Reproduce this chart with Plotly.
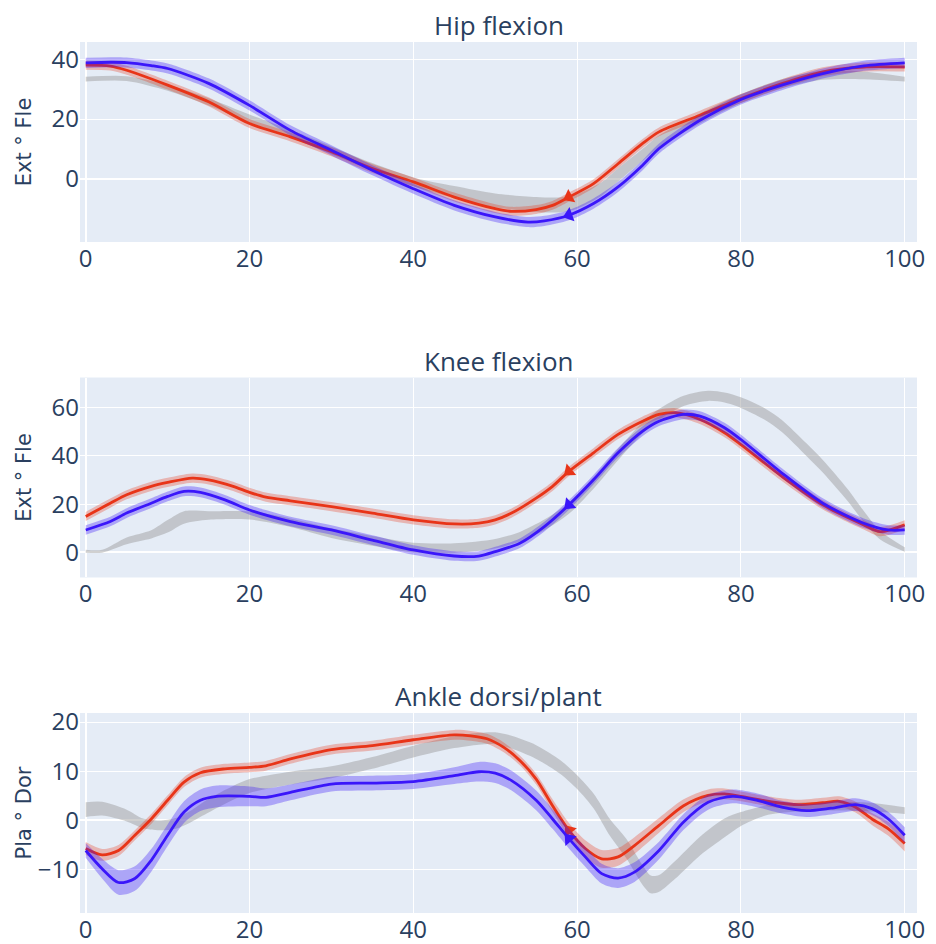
import numpy as np
import plotly.graph_objects as go
from plotly.subplots import make_subplots

TITLES = ["Hip flexion", "Knee flexion", "Ankle dorsi/plant"]
YLABELS = ["Ext ° Fle", "Ext ° Fle", "Pla ° Dor"]
X_TICKS = [0, 20, 40, 60, 80, 100]
Y_TICKS = [[0, 20, 40], [0, 20, 40, 60], [-10, 0, 10, 20]]
TOE_OFF_RED = 59
TOE_OFF_BLUE = 59

# ---------------- Hip ----------------
hip_norm_x = [0, 5, 10, 15, 20, 25, 30, 35, 40, 45, 50, 55, 58, 60, 63, 65, 68, 70, 75, 80, 85, 90, 95, 100]
hip_norm_y = [33.4, 33.6, 30.5, 25.8, 20.2, 15.1, 9.5, 3.9, -1.1, -4.5, -7.3, -8.7, -8.8, -7.6, -3.5, 1.2, 8.0, 12.5, 20.2, 26.9, 31.9, 34.7, 34.7, 33.4]
hip_norm_sd = [0.8, 0.8, 1.0, 1.2, 1.3, 1.3, 1.3, 1.3, 1.5, 2.0, 2.3, 2.5, 2.5, 2.5, 2.3, 2.2, 2.0, 2.0, 1.7, 1.5, 1.5, 1.5, 1.3, 0.8]

hip_red_x = [0, 3, 5, 10, 15, 20, 25, 30, 35, 40, 45, 50, 52, 55, 57, 59, 62, 65, 68, 70, 75, 80, 85, 90, 95, 100]
hip_red_y = [38.1, 37.8, 36.4, 31.4, 25.8, 18.5, 14.0, 9.0, 3.4, -1.1, -6.2, -10.1, -11.0, -10.4, -9.0, -6.2, -1.7, 5.0, 11.8, 15.7, 21.3, 26.9, 31.9, 35.9, 37.5, 37.5]
hip_red_sd = [1.5] * len(hip_red_x)

hip_blue_x = [0, 3, 5, 8, 10, 15, 20, 25, 30, 35, 40, 45, 50, 54, 56, 59, 62, 65, 68, 70, 75, 80, 85, 90, 95, 100]
hip_blue_y = [38.9, 39.1, 39.0, 38.0, 37.0, 32.0, 24.6, 16.2, 9.5, 2.8, -3.4, -9.0, -12.9, -14.6, -14.2, -12.3, -8.4, -2.8, 4.5, 10.1, 19.6, 26.6, 31.4, 35.3, 37.9, 38.9]
hip_blue_sd = [1.7] * len(hip_blue_x)

# ---------------- Knee ----------------
knee_norm_x = [0, 2, 5, 8, 10, 12, 15, 20, 25, 30, 35, 40, 45, 50, 53, 56, 59, 62, 65, 68, 70, 73, 76, 78, 80, 83, 85, 88, 90, 93, 95, 97, 100]
knee_norm_y = [0.5, 0.5, 4.8, 7.5, 10.8, 14.5, 15.3, 15.3, 12.3, 8.0, 4.8, 2.0, 1.8, 3.6, 6.5, 11.4, 18.3, 28.8, 40.6, 51.7, 57.2, 62.8, 64.9, 64.2, 62.1, 57.2, 52.4, 42.6, 35.7, 23.9, 14.9, 7.2, 1.2]
knee_norm_sd = [0.6, 0.6, 1.4, 1.7, 2.6, 2.6, 1.8, 1.7, 1.8, 2.0, 2.0, 2.0, 2.0, 2.0, 2.0, 2.2, 2.3, 2.4, 2.4, 2.3, 2.2, 2.1, 2.1, 2.1, 2.2, 2.4, 2.5, 2.6, 2.6, 2.5, 2.3, 1.8, 0.9]

knee_red_x = [0, 3, 5, 8, 10, 13, 15, 18, 20, 22, 25, 30, 35, 40, 45, 48, 50, 52, 55, 57, 59, 62, 65, 68, 70, 72, 75, 78, 80, 85, 90, 95, 97, 100]
knee_red_y = [14.9, 20.4, 23.9, 27.4, 29.0, 30.8, 30.1, 27.4, 24.9, 22.9, 21.4, 19.0, 16.3, 13.5, 11.8, 12.1, 13.5, 16.3, 22.5, 27.4, 33.6, 41.3, 48.9, 54.4, 57.2, 57.9, 55.1, 49.6, 44.7, 31.5, 19.7, 11.4, 8.6, 11.4]
knee_red_sd = [1.9] * len(knee_red_x)

knee_blue_x = [0, 3, 5, 8, 10, 12, 14, 17, 20, 25, 30, 35, 40, 45, 48, 50, 53, 56, 59, 62, 65, 68, 70, 73, 75, 78, 80, 85, 90, 95, 98, 100]
knee_blue_y = [9.3, 12.8, 16.3, 20.4, 23.2, 25.3, 24.9, 21.8, 17.6, 12.8, 9.3, 5.1, 1.0, -1.5, -1.5, 0.3, 3.8, 10.7, 19.7, 30.1, 41.3, 50.3, 54.4, 57.2, 56.5, 51.7, 46.8, 32.9, 20.4, 12.1, 9.3, 9.3]
knee_blue_sd = [2.0] * len(knee_blue_x)

# ---------------- Ankle ----------------
ankle_norm_x = [0, 2, 5, 7, 9, 11, 13, 15, 18, 20, 25, 30, 35, 40, 45, 48, 50, 52, 55, 58, 60, 62, 64, 66, 68, 69, 70, 72, 75, 78, 80, 83, 86, 90, 95, 100]
ankle_norm_y = [2.2, 2.4, 1.0, -0.6, -1.0, -0.6, 1.0, 3.0, 5.6, 7.0, 8.6, 9.8, 11.7, 14.0, 15.9, 16.6, 16.7, 15.9, 13.9, 10.8, 7.8, 4.0, -1.4, -5.7, -11.1, -13.0, -12.8, -10.0, -5.2, -1.5, 0.3, 2.0, 2.6, 2.9, 2.8, 2.0]
ankle_norm_sd = [1.5, 1.4, 1.2, 1.0, 1.0, 1.1, 1.2, 1.4, 1.4, 1.4, 1.3, 1.2, 1.2, 1.2, 1.2, 1.2, 1.2, 1.3, 1.4, 1.4, 1.4, 1.5, 1.7, 2.0, 2.0, 1.8, 1.7, 1.8, 1.9, 1.9, 1.4, 1.0, 0.9, 0.9, 0.9, 0.7]

ankle_red_x = [0, 2, 4, 6, 8, 10, 12, 14, 17, 20, 22, 25, 30, 35, 40, 45, 47, 49, 51, 53, 55, 57, 59, 61, 63, 65, 67, 70, 73, 76, 78, 80, 84, 87, 90, 92, 94, 96, 98, 100]
ankle_red_y = [-5.7, -7.0, -6.1, -3.0, 0.3, 4.1, 7.8, 9.7, 10.5, 10.8, 11.1, 12.5, 14.4, 15.2, 16.4, 17.4, 17.2, 16.6, 14.9, 12.2, 8.4, 3.0, -2.0, -5.7, -7.8, -7.4, -5.1, -1.0, 3.0, 5.1, 5.4, 4.9, 3.7, 3.2, 3.6, 3.9, 2.7, 0.3, -1.7, -4.7]
ankle_red_sd = [1.3, 1.2, 1.1, 1.0, 1.0, 1.0, 1.0, 1.0, 1.0, 1.0, 1.0, 1.0, 1.0, 1.0, 1.0, 1.0, 1.0, 1.0, 1.0, 1.0, 1.1, 1.3, 1.5, 1.7, 1.8, 1.8, 1.7, 1.5, 1.3, 1.2, 1.1, 1.0, 1.0, 1.0, 1.0, 1.0, 1.1, 1.2, 1.4, 1.6]

ankle_blue_x = [0, 2, 4, 6, 8, 10, 12, 14, 16, 20, 22, 25, 30, 35, 40, 45, 48, 50, 52, 55, 57, 59, 61, 63, 65, 67, 70, 73, 76, 79, 82, 85, 88, 91, 94, 96, 98, 100]
ankle_blue_y = [-6.1, -9.8, -12.6, -11.8, -8.1, -3.0, 1.7, 4.1, 4.9, 4.9, 4.7, 5.7, 7.4, 7.6, 7.9, 9.1, 9.9, 9.6, 8.1, 4.1, 0.3, -3.7, -7.4, -10.8, -11.7, -10.5, -6.1, -0.3, 3.7, 4.9, 4.1, 2.7, 2.0, 2.5, 3.2, 2.4, 0.3, -3.0]
ankle_blue_sd = [1.5, 2.0, 2.5, 2.5, 2.3, 2.2, 2.2, 2.2, 2.2, 2.0, 1.8, 1.6, 1.5, 1.5, 1.5, 1.7, 2.0, 2.0, 2.0, 2.0, 2.0, 2.0, 2.0, 2.0, 2.0, 2.0, 1.8, 1.6, 1.5, 1.4, 1.4, 1.3, 1.3, 1.3, 1.3, 1.3, 1.4, 1.6]

PANELS = [
    ((hip_norm_x, hip_norm_y, hip_norm_sd), (hip_red_x, hip_red_y, hip_red_sd), (hip_blue_x, hip_blue_y, hip_blue_sd)),
    ((knee_norm_x, knee_norm_y, knee_norm_sd), (knee_red_x, knee_red_y, knee_red_sd), (knee_blue_x, knee_blue_y, knee_blue_sd)),
    ((ankle_norm_x, ankle_norm_y, ankle_norm_sd), (ankle_red_x, ankle_red_y, ankle_red_sd), (ankle_blue_x, ankle_blue_y, ankle_blue_sd)),
]
Y_RANGES = [[-21.3, 45.9], [-10.4, 72.5], [-18.8, 21.83]]
X_RANGE = [-0.7, 101.5]
TITLE_STANDOFF = [14, 14, 0]

RED = "rgb(232,52,24)"
RED_BAND = "rgba(232,52,24,0.3)"
BLUE = "rgb(58,22,250)"
BLUE_BAND = "rgba(58,22,250,0.33)"
GRAY_BAND = "rgba(150,150,150,0.45)"
TXT = "#2a3f5f"

W, H = 936, 944
ML, MR, MT, MB = 80, 19, 42, 31
PLOT_W = W - ML - MR
PANEL_H = 200

fig = make_subplots(rows=3, cols=1, subplot_titles=TITLES, vertical_spacing=0.1556)


def add_band(x, y, sd, color, row):
    x = np.asarray(x, float)
    y = np.asarray(y, float)
    sd = np.asarray(sd, float)
    fig.add_trace(go.Scatter(x=x, y=y + sd, mode="lines", line=dict(width=0, shape="spline", smoothing=0.8),
                             hoverinfo="skip", showlegend=False), row=row, col=1)
    fig.add_trace(go.Scatter(x=x, y=y - sd, mode="lines", line=dict(width=0, shape="spline", smoothing=0.8),
                             fill="tonexty", fillcolor=color, hoverinfo="skip", showlegend=False), row=row, col=1)


def marker_angle(x, y, x0, yr):
    xs_px = PLOT_W / (X_RANGE[1] - X_RANGE[0])
    ys_px = PANEL_H / (yr[1] - yr[0])
    dx = 1.0 * xs_px
    dy = (np.interp(x0 + 0.5, x, y) - np.interp(x0 - 0.5, x, y)) * ys_px
    return float(np.degrees(np.arctan2(-dx, -dy))) % 360


for i, (norm, red, blue) in enumerate(PANELS):
    row = i + 1
    yr = Y_RANGES[i]
    add_band(*norm, GRAY_BAND, row)
    for (sx, sy, ssd), col, band, to in ((red, RED, RED_BAND, TOE_OFF_RED), (blue, BLUE, BLUE_BAND, TOE_OFF_BLUE)):
        add_band(sx, sy, ssd, band, row)
        fig.add_trace(go.Scatter(x=sx, y=sy, mode="lines", line=dict(color=col, width=2.8, shape="spline", smoothing=0.8),
                                 showlegend=False), row=row, col=1)
        fig.add_trace(go.Scatter(x=[to], y=[float(np.interp(to, sx, sy))], mode="markers",
                                 marker=dict(symbol="triangle-up", size=13, color=col,
                                             angle=marker_angle(sx, sy, to, yr)),
                                 showlegend=False), row=row, col=1)
    fig.update_xaxes(range=X_RANGE, tickvals=X_TICKS, row=row, col=1, automargin=False,
                     tickfont=dict(size=24, family="Open Sans", color=TXT))
    fig.update_yaxes(range=yr, tickvals=Y_TICKS[i], row=row, col=1, automargin=False,
                     tickfont=dict(size=24, family="Open Sans", color=TXT),
                     title=dict(text=YLABELS[i], standoff=TITLE_STANDOFF[i],
                                font=dict(size=21, family="DejaVu Sans", color=TXT)))

for ann in fig.layout.annotations:
    ann.font = dict(size=26, family="Open Sans", color=TXT)
    ann.yshift = -3

fig.update_layout(width=W, height=H, margin=dict(l=ML, r=MR, t=MT, b=MB),
                  font=dict(family="Open Sans"), showlegend=False, template="plotly")

fig.write_html("out.html")
